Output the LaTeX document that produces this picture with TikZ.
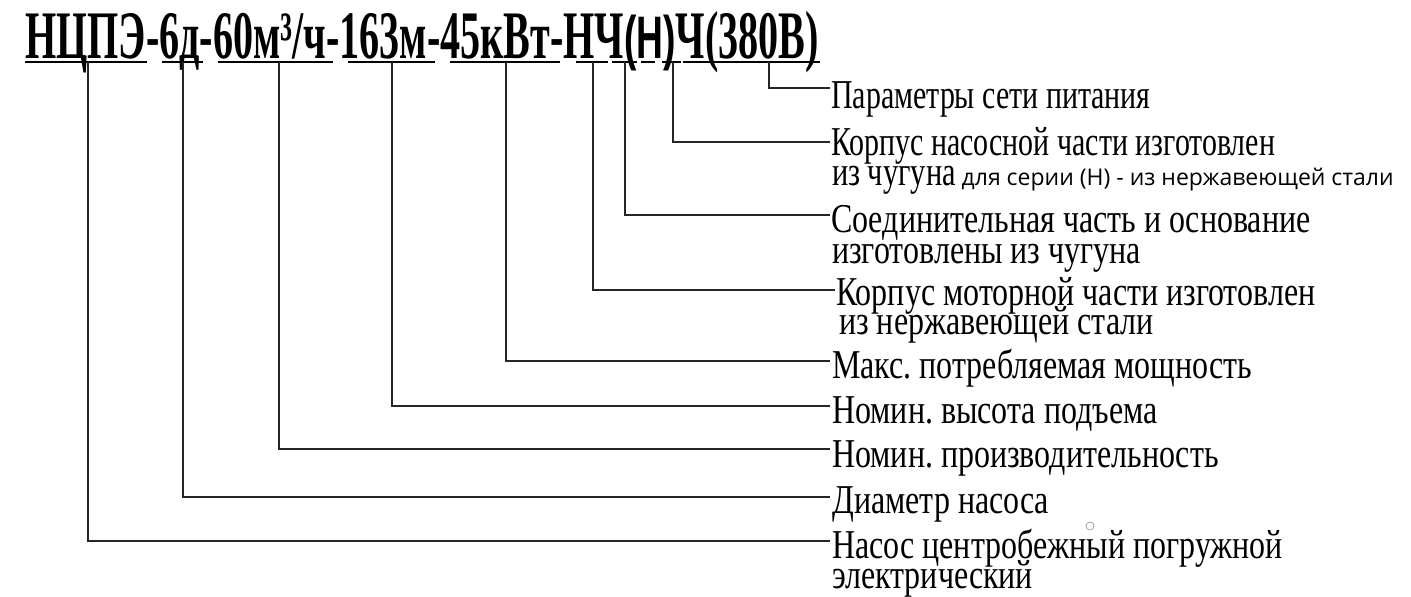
\documentclass[tikz,border=0pt]{standalone}
\usepackage{fontspec}
\setmainfont{Liberation Serif}
\newfontfamily\lblfont[FakeStretch=0.78]{Liberation Serif}
\newfontfamily\lblnarrow[FakeStretch=0.73]{Liberation Serif}
\newfontfamily\ttlfont[FakeStretch=0.59]{Liberation Serif}
\newfontfamily\ttlsans[FakeStretch=0.62]{Liberation Sans}
\newfontfamily\notefont{Open Sans}
\frenchspacing
\tikzset{
  lbl/.style={anchor=base west, inner sep=0pt, font=\lblfont\fontsize{41}{41}\selectfont},
  lbln/.style={anchor=base west, inner sep=0pt, font=\lblnarrow\fontsize{41}{41}\selectfont},
  ttl/.style={anchor=base west, inner sep=0pt, font=\ttlfont\bfseries\fontsize{68}{68}\selectfont},
  uline/.style={line width=2.4pt, black},
  conn/.style={line width=1.8pt, black!85},
}
\begin{document}
\begin{tikzpicture}[x=1pt,y=-1pt]
\useasboundingbox (0,0) rectangle (1411,597);
\fill[white] (0,0) rectangle (1411,597);
% title
\node[ttl] (title) at (25,58) {НЦПЭ-6д-60м³/ч-163м-45кВт-НЧ{\ttlsans\fontsize{60}{60}\selectfont(Н)}Ч(380В)};
% underlines
\foreach \a/\b in {25/147,162/203,218/333,348/435,450/560,576/608,612/637,641/655,662/681,683/820}
  \draw[uline] (\a,62) -- (\b,62);
% connector start points
\coordinate (u1) at (88,62);
\coordinate (u2) at (183,62);
\coordinate (u3) at (279,62);
\coordinate (u4) at (392,62);
\coordinate (u5) at (506,62);
\coordinate (u6) at (593,62);
\coordinate (u7) at (625,62);
\coordinate (u8) at (673,62);
\coordinate (u9) at (769,62);
% connector end points
\coordinate (e9) at (830,88);
\coordinate (e8) at (830,142);
\coordinate (e7) at (830,215);
\coordinate (e6) at (835,290);
\coordinate (e5) at (830,361);
\coordinate (e4) at (830,406);
\coordinate (e3) at (830,449);
\coordinate (e2) at (830,497);
\coordinate (e1) at (830,541);
\foreach \i in {1,...,9}
  \draw[conn] (u\i) |- (e\i);
% labels
\node[lbln] (l9) at (831,108) {Параметры сети питания};
\node[lbln] (l8a) at (831,155) {Корпус насосной части изготовлен};
\node[anchor=base west, inner sep=0pt] (l8b) at (832,185)
  {\lblfont\fontsize{41}{41}\selectfont\addfontfeature{FakeStretch=0.74}из чугуна\notefont\fontsize{23}{23}\selectfont\ для серии (Н) - из нержавеющей стали};
\node[lbl] (l7a) at (831,232) {Соединительная часть и основание};
\node[lbl] (l7b) at (832,263) {изготовлены из чугуна};
\node[lbl] (l6a) at (836,305) {Корпус моторной части изготовлен};
\node[lbl] (l6b) at (839,334) {из нержавеющей стали};
\node[lbl] (l5) at (832,378) {Макс. потребляемая мощность};
\node[lbl] (l4) at (832,423) {Номин. высота подъема};
\node[lbl] (l3) at (832,467) {Номин. производительность};
\node[lbl] (l2) at (832,513) {Диаметр насоса};
\node[lbl] (l1a) at (832,558) {Насос центробежный погружной};
\node[lbl] (l1b) at (832,588) {электрический};
\draw[blue!30!gray!60, line width=0.8pt] (1090,526) circle (4);
\end{tikzpicture}
\end{document}
